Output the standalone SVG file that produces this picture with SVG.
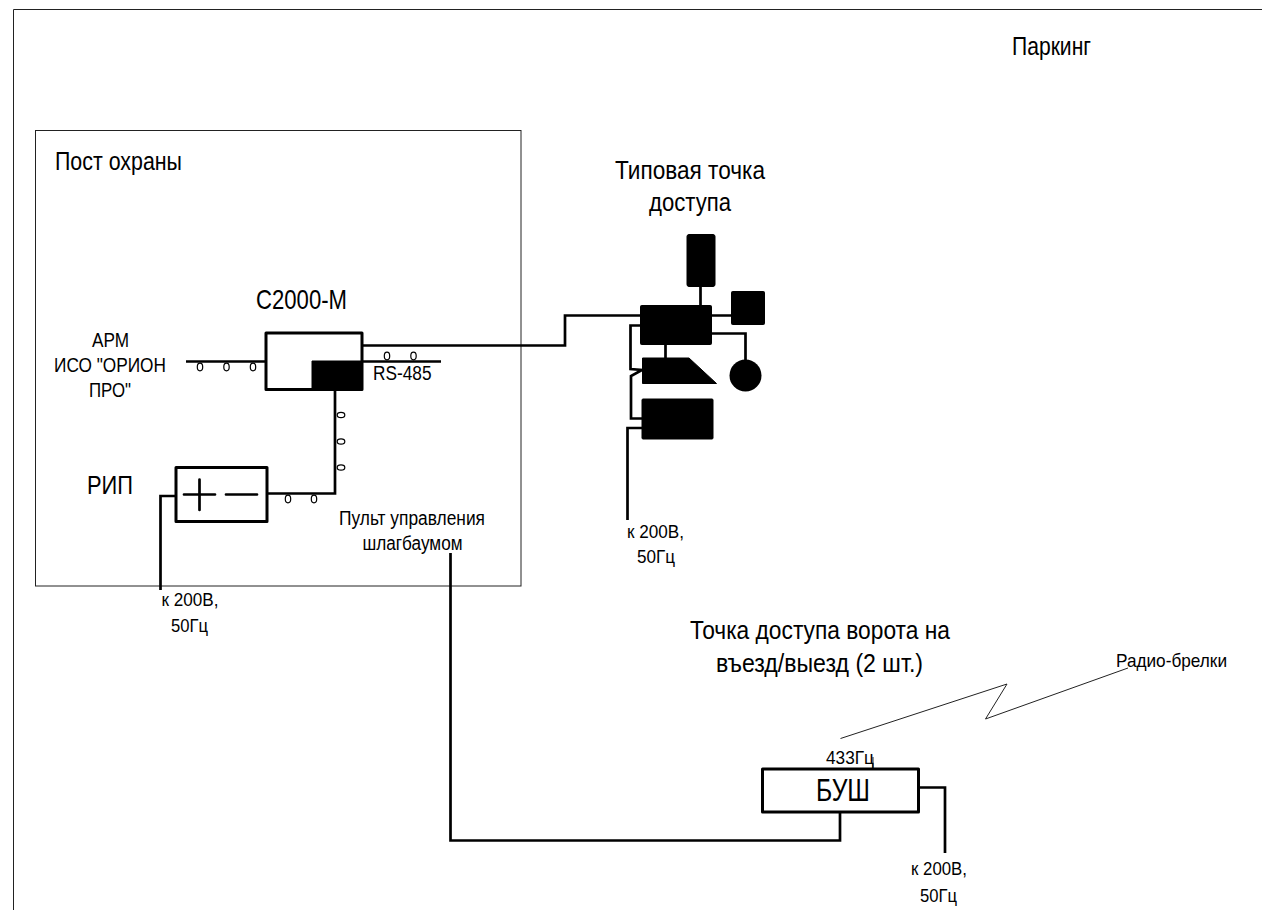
<svg xmlns="http://www.w3.org/2000/svg" width="1262" height="910" viewBox="0 0 1262 910">
<style>
text{font-family:"Liberation Sans",Arial,sans-serif;fill:#000}
.w{fill:none;stroke:#000;stroke-width:2.700}
.box{fill:#fff;stroke:#000;stroke-width:3;stroke-linejoin:round}
.blk{fill:#000;stroke:#000;stroke-width:1;stroke-linejoin:round}
.thin{fill:none;stroke:#222;stroke-width:1}
.c{fill:#fff;stroke:#000;stroke-width:1.200}
</style>
<rect width="1262" height="910" fill="#fff"/>
<g id="frame"><path class="thin" d="M13.500 910V9.500H1262"/></g>
<g id="post"><rect class="thin" x="35.500" y="130.500" width="485.500" height="455.500"/>
<text x="55" y="169.500" font-size="26" textLength="127" lengthAdjust="spacingAndGlyphs">Пост охраны</text></g>
<g id="connectors">
<path class="w" d="M362 345.500H565V315.500H640"/>
<path class="w" d="M186 361.500H266M362 361.500H441"/>
<path class="w" d="M335 390V493.500H267"/>
<path class="w" d="M176 496H160.500V590"/>
<path class="w" d="M700.500 287V305M712 315.500H731M712 333.500H745.500V360M665.500 345V358"/>
<path class="w" d="M640 325.500H630.500V369L642 370L631 376V418.500H642"/>
<path class="w" d="M642 428H627.500V520"/>
<path class="w" d="M450.500 553V840.500H840V812"/>
<path class="w" d="M918 787.500H945V853"/>
<path class="thin" d="M840.500 738.500L1007 684L985.500 719L1128 668"/>
<path class="thin" d="M873 757V769"/>
</g>
<g id="c2000m"><rect class="box" x="266" y="333" width="96" height="56.500"/>
<rect class="blk" x="312" y="361" width="50" height="29"/>
<text x="256" y="309" font-size="28" textLength="91" lengthAdjust="spacingAndGlyphs">С2000-М</text></g>
<g id="bus-marks">
<ellipse class="c" cx="200" cy="367" rx="2.700" ry="3.800"/><ellipse class="c" cx="226.500" cy="367" rx="2.700" ry="3.800"/><ellipse class="c" cx="253" cy="367" rx="2.700" ry="3.800"/>
<ellipse class="c" cx="387" cy="356" rx="2.700" ry="3.800"/><ellipse class="c" cx="413.500" cy="356" rx="2.700" ry="3.800"/>
<ellipse class="c" cx="341" cy="415" rx="3.800" ry="2.700"/><ellipse class="c" cx="341" cy="441.500" rx="3.800" ry="2.700"/><ellipse class="c" cx="341" cy="467.500" rx="3.800" ry="2.700"/>
<ellipse class="c" cx="288" cy="499" rx="2.700" ry="3.800"/><ellipse class="c" cx="314" cy="499" rx="2.700" ry="3.800"/>
</g>
<g id="rip"><rect class="box" x="176" y="467.500" width="91" height="54"/>
<path class="w" stroke-linecap="round" d="M184 494.500H215M199.500 479.500V510M226 494.500H257"/>
<text x="87" y="494" font-size="26" textLength="46" lengthAdjust="spacingAndGlyphs">РИП</text></g>
<g id="access-point">
<rect class="blk" x="687" y="234.500" width="28" height="52" rx="2"/>
<rect class="blk" x="640.500" y="305.500" width="71" height="39" rx="1"/>
<rect class="blk" x="731.500" y="291.500" width="33" height="33" rx="1"/>
<polygon class="blk" points="642.500,358 689,358 716.500,383.500 642.500,383.500"/>
<circle cx="745.500" cy="375.500" r="16"/>
<rect class="blk" x="642" y="399" width="71" height="40" rx="1"/>
<text x="615" y="179" font-size="26" textLength="150" lengthAdjust="spacingAndGlyphs">Типовая точка</text>
<text x="649" y="211" font-size="26" textLength="82" lengthAdjust="spacingAndGlyphs">доступа</text>
</g>
<g id="bush"><rect class="box" x="762.500" y="769" width="156" height="43"/>
<text x="816" y="800.500" font-size="32" textLength="54" lengthAdjust="spacingAndGlyphs">БУШ</text></g>
<g id="labels">
<text x="1012" y="55" font-size="25" textLength="79" lengthAdjust="spacingAndGlyphs">Паркинг</text>
<text x="92" y="346.500" font-size="21" textLength="37" lengthAdjust="spacingAndGlyphs">АРМ</text>
<text x="54" y="371.500" font-size="21" textLength="112" lengthAdjust="spacingAndGlyphs">ИСО "ОРИОН</text>
<text x="89" y="396.500" font-size="21" textLength="42" lengthAdjust="spacingAndGlyphs">ПРО"</text>
<text x="373" y="380" font-size="20" textLength="58.500" lengthAdjust="spacingAndGlyphs">RS-485</text>
<text x="339" y="524.500" font-size="20" textLength="146" lengthAdjust="spacingAndGlyphs">Пульт управления</text>
<text x="362.500" y="549.500" font-size="20" textLength="100" lengthAdjust="spacingAndGlyphs">шлагбаумом</text>
<text x="161.500" y="606" font-size="18" textLength="57" lengthAdjust="spacingAndGlyphs">к 200В,</text>
<text x="171" y="632" font-size="18" textLength="37" lengthAdjust="spacingAndGlyphs">50Гц</text>
<text x="627" y="538" font-size="18" textLength="57" lengthAdjust="spacingAndGlyphs">к 200В,</text>
<text x="637" y="563" font-size="18" textLength="38" lengthAdjust="spacingAndGlyphs">50Гц</text>
<text x="690" y="639" font-size="25" textLength="260" lengthAdjust="spacingAndGlyphs">Точка доступа ворота на</text>
<text x="716" y="672" font-size="25" textLength="207" lengthAdjust="spacingAndGlyphs">въезд/выезд (2 шт.)</text>
<text x="1116" y="666.500" font-size="19" textLength="111" lengthAdjust="spacingAndGlyphs">Радио-брелки</text>
<text x="826" y="764" font-size="18" textLength="48" lengthAdjust="spacingAndGlyphs">433Гц</text>
<text x="911" y="875" font-size="18" textLength="56" lengthAdjust="spacingAndGlyphs">к 200В,</text>
<text x="920" y="902" font-size="18" textLength="37" lengthAdjust="spacingAndGlyphs">50Гц</text>
</g>
</svg>
